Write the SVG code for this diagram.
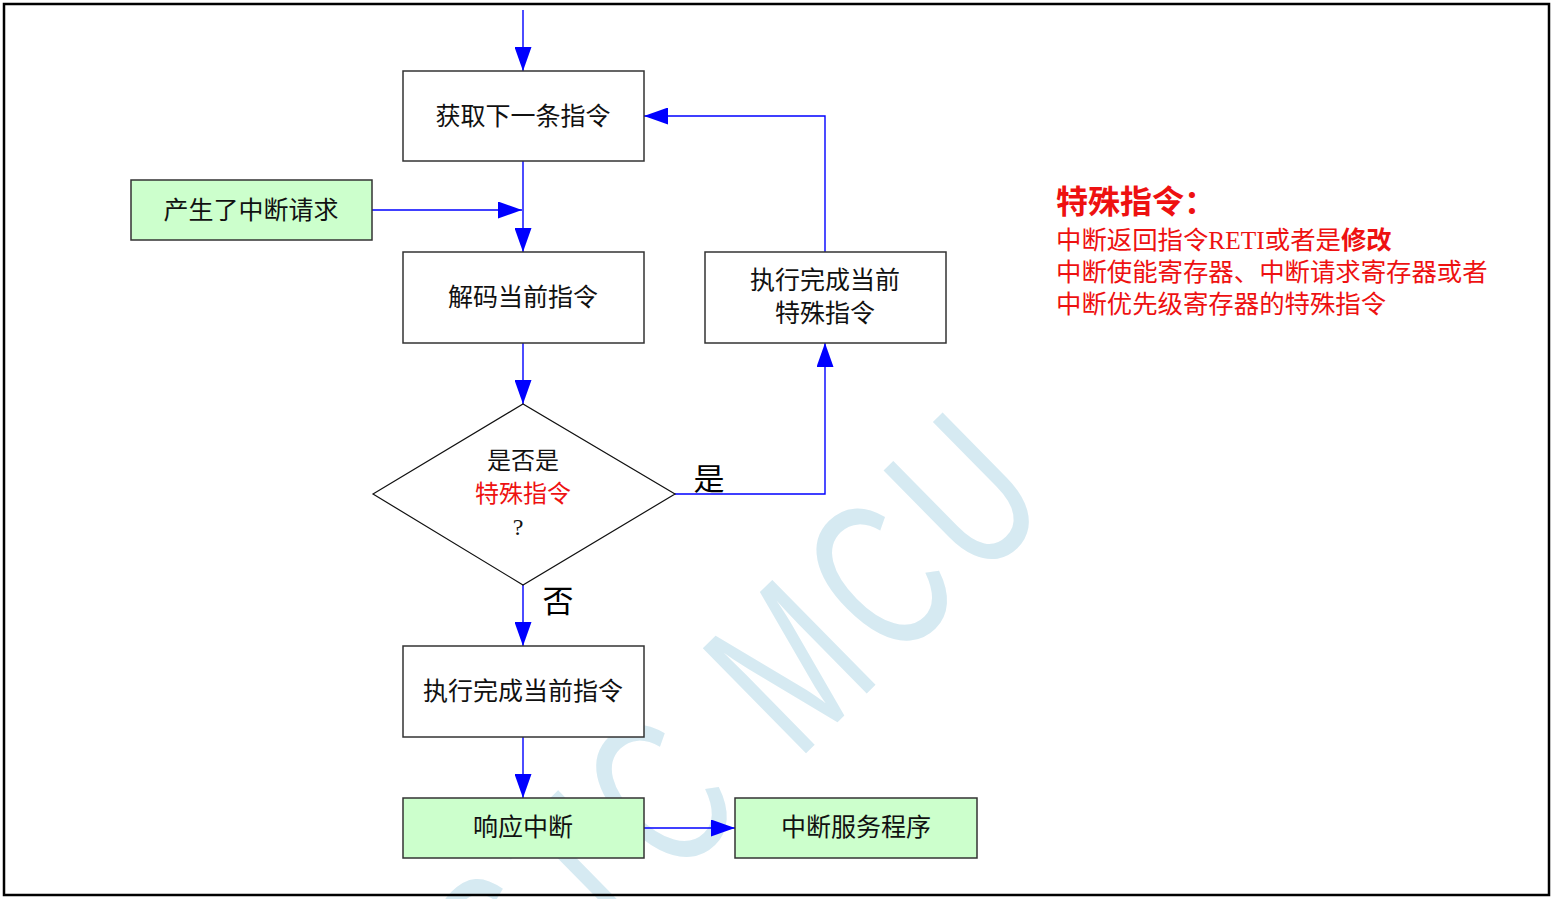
<svg xmlns="http://www.w3.org/2000/svg" width="1554" height="899" viewBox="0 0 1554 899">
<style>
.box{fill:#ffffff;stroke:#333333;stroke-width:1.5}
.green{fill:#ccffcc;stroke:#333333;stroke-width:1.5}
.t{font-family:"Liberation Serif","Noto Sans CJK SC",serif;font-size:25px;fill:#111111;text-anchor:middle}
.lbl{font-family:"Liberation Serif","Noto Sans CJK SC",serif;font-size:31px;fill:#000000;text-anchor:middle}
.red{fill:#ee1111}
.note{font-family:"Liberation Serif","Noto Sans CJK SC",serif;font-size:25.4px;fill:#ee1111}
.conn path{fill:none;stroke:#0000ff;stroke-width:1.4;marker-end:url(#ah)}
</style>
<defs>
<marker id="ah" viewBox="0 0 24 17" refX="24" refY="8.5" markerWidth="24" markerHeight="17" markerUnits="userSpaceOnUse" orient="auto">
<path d="M0,0 L24,8.5 L0,17 Z" fill="#0000ff"/>
</marker>
</defs>
<rect x="0" y="0" width="1554" height="899" fill="#ffffff"/>
<text id="watermark" transform="translate(521,1033) rotate(-44.5) scale(0.68,1)" font-family="Liberation Sans, Arial, sans-serif" font-size="214" letter-spacing="20.6" fill="#d6eaf2">STC MCU</text>
<rect x="4" y="4" width="1545" height="891" fill="none" stroke="#000000" stroke-width="2.5"/>
<g class="conn" id="connectors">
<path d="M523,10 V71"/>
<path d="M523,161 V252"/>
<path d="M372,210 H522"/>
<path d="M523,343 V404"/>
<path d="M675,494 H825 V343"/>
<path d="M825,252 V116 H644"/>
<path d="M523,585 V646"/>
<path d="M523,737 V798"/>
<path d="M644,828 H735"/>
</g>
<g id="fetch"><rect class="box" x="403" y="71" width="241" height="90"/><text class="t" x="523" y="125">获取下一条指令</text></g>
<g id="irq"><rect class="green" x="131" y="180" width="241" height="60"/><text class="t" x="251" y="219">产生了中断请求</text></g>
<g id="decode"><rect class="box" x="403" y="252" width="241" height="91"/><text class="t" x="523" y="306">解码当前指令</text></g>
<g id="execSpecial"><rect class="box" x="705" y="252" width="241" height="91"/><text class="t" x="825" y="289">执行完成当前</text><text class="t" x="825" y="322">特殊指令</text></g>
<g id="decision"><polygon points="373,494 523,404 675,494 523,585" fill="#ffffff" stroke="#111111" stroke-width="1.2"/>
<text class="t" x="523" y="469" style="font-size:24px">是否是</text>
<text class="t red" x="523" y="502" style="font-size:24px">特殊指令</text>
<text class="t" x="518" y="535" style="font-size:24px">?</text></g>
<g id="labels"><text class="lbl" x="709" y="490">是</text><text class="lbl" x="558" y="612">否</text></g>
<g id="exec"><rect class="box" x="403" y="646" width="241" height="91"/><text class="t" x="523" y="700">执行完成当前指令</text></g>
<g id="respond"><rect class="green" x="403" y="798" width="241" height="60"/><text class="t" x="523" y="836">响应中断</text></g>
<g id="isr"><rect class="green" x="735" y="798" width="242" height="60"/><text class="t" x="856" y="836">中断服务程序</text></g>
<g id="note">
<text class="note" x="1056" y="213" style="font-size:32px;font-weight:bold">特殊指令：</text>
<text class="note" x="1056" y="249">中断返回指令RETI或者是<tspan font-weight="bold">修改</tspan></text>
<text class="note" x="1056" y="281">中断使能寄存器、中断请求寄存器或者</text>
<text class="note" x="1056" y="313">中断优先级寄存器的特殊指令</text>
</g>
</svg>
